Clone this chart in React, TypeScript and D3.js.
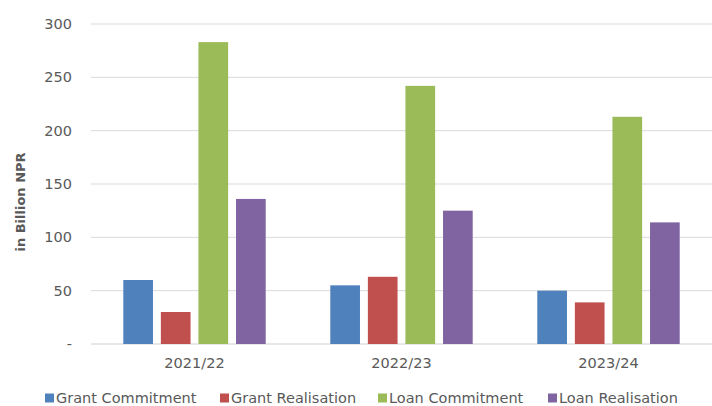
import * as d3 from "d3";

const categories = ["2021/22", "2022/23", "2023/24"];
const seriesNames = ["Grant Commitment", "Grant Realisation", "Loan Commitment", "Loan Realisation"];
const grantCommitment = [60, 55, 50];
const grantRealisation = [30, 63, 39];
const loanCommitment = [283, 242, 213];
const loanRealisation = [136, 125, 114];
const yTicks = [0, 50, 100, 150, 200, 250, 300];
const colors = ["#4F81BD", "#C0504D", "#9BBB59", "#8064A2"];

const width = 712;
const height = 406;
const font = "'DejaVu Sans', 'Open Sans', sans-serif";
const textColor = "#595959";

const App = () => {
  const values = [grantCommitment, grantRealisation, loanCommitment, loanRealisation];

  const x0 = d3.scaleBand().domain(categories).range([91, 712]).paddingInner(0.312).paddingOuter(0.156);
  const x1 = d3.scaleBand().domain(seriesNames).range([0, x0.bandwidth()]).paddingInner(0.21).paddingOuter(0);
  const y = d3.scaleLinear().domain([0, 300]).range([344, 24]);

  // legend item x positions
  const legendX = [45, 220, 378, 548];

  return (
    <svg width={width} height={height} style={{ position: "absolute", left: 0, top: 0 }} fontFamily={font}>
      <rect width={width} height={height} fill="#fff" />
      {yTicks.map(t => (
        <g key={t}>
          <line x1={91} x2={width} y1={y(t)} y2={y(t)} stroke={t === 0 ? "#d0d0d0" : "#d9d9d9"} strokeWidth={1} />
          <text x={72} y={y(t)} dy="0.35em" textAnchor="end" fontSize={14.5} fill={textColor}>
            {t === 0 ? "-" : t}
          </text>
        </g>
      ))}
      {categories.map((c, i) => (
        <g key={c} transform={`translate(${x0(c)},0)`}>
          {seriesNames.map((s, j) => (
            <rect
              key={s}
              x={x1(s)}
              y={y(values[j][i])}
              width={x1.bandwidth()}
              height={y(0) - y(values[j][i])}
              fill={colors[j]}
            />
          ))}
          <text x={x0.bandwidth() / 2} y={363} dy="0.35em" textAnchor="middle" fontSize={14.5} fill={textColor}>
            {c}
          </text>
        </g>
      ))}
      <text
        transform={`translate(20,202) rotate(-90)`}
        textAnchor="middle"
        dy="0.35em"
        fontSize={13}
        fontWeight="bold"
        fill={textColor}
      >
        in Billion NPR
      </text>
      {seriesNames.map((s, j) => (
        <g key={s} transform={`translate(${legendX[j]},398)`}>
          <rect x={0} y={-4.5} width={9} height={9} fill={colors[j]} />
          <text x={11} dy="0.35em" fontSize={14.5} fill={textColor}>
            {s}
          </text>
        </g>
      ))}
    </svg>
  );
};

export default App;
